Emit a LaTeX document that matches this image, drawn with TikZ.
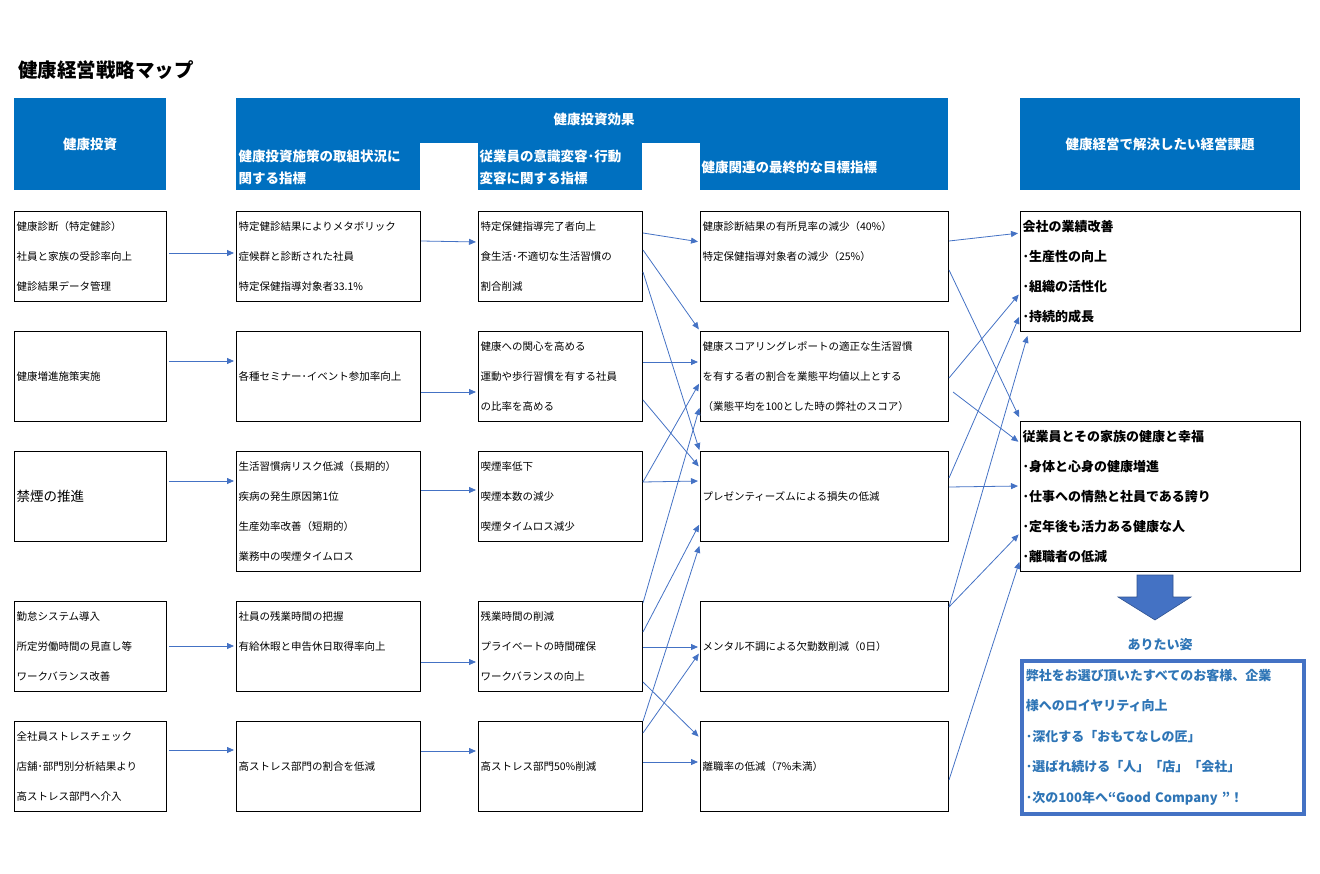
\documentclass[tikz,border=0pt]{standalone}
\usepackage{fontspec}
\setmainfont{Noto Sans CJK JP}
\usepackage{tikz}
\usepackage{xcolor}
\usetikzlibrary{arrows.meta}
\usetikzlibrary{calc}
\definecolor{headblue}{RGB}{0,112,192}
\definecolor{linkblue}{RGB}{68,114,196}
\definecolor{visblue}{RGB}{46,117,182}
\definecolor{arrowedge}{RGB}{47,82,143}

\begin{document}
\begin{tikzpicture}[x=1pt, y=-1pt,
		box/.style={draw=black, line width=1pt, anchor=north west, align=left, inner xsep=2pt, inner ysep=0pt, font=\fontsize{10.5}{30}\selectfont},
		invbox/.style={box, minimum width=152pt, text width=148pt, minimum height=90pt},
		actbox/.style={box, minimum width=184pt, text width=180pt, minimum height=90pt},
		chgbox/.style={box, minimum width=164pt, text width=160pt, minimum height=90pt},
		goalbox/.style={box, minimum width=248pt, text width=244pt, minimum height=90pt},
		issbox/.style={box, minimum width=280pt, text width=276pt, font=\fontsize{13}{30}\bfseries\selectfont},
		head/.style={fill=headblue, anchor=north west, minimum height=92pt, inner sep=0pt},
		headtext/.style={text=white, align=left, font=\fontsize{13.5}{22}\bfseries\selectfont},
		link/.style={draw=linkblue, line width=0.8pt, -{Triangle[length=7pt, width=6pt]}, shorten >=2pt}]
		\useasboundingbox (0,0) rectangle (1320,874);

		\node(title)	[anchor=west, inner sep=0pt, font=\fontsize{19.5}{24}\bfseries\selectfont] at (18,70) {健康経営戦略マップ};

		\node(hinv)		[head, headtext, minimum width=152pt] at (14,98)	{健康投資};
		\node(heff)		[head, minimum width=712pt] at (236,98)				{};
		\fill[white] (420,143) rectangle (478,190);
		\fill[white] (642,143) rectangle (700,190);
		\node(hefftxt)	[headtext] at (594,119)								{健康投資効果};
		\node(hact)		[headtext, anchor=west] at (235,167)				{健康投資施策の取組状況に\\関する指標};
		\node(hchg)		[headtext, anchor=west] at (476,167)				{従業員の意識変容･行動\\変容に関する指標};
		\node(hgoal)	[headtext, anchor=west] at (698,167)				{健康関連の最終的な目標指標};
		\node(hiss)		[head, headtext, minimum width=280pt] at (1020,98)	{健康経営で解決したい経営課題};

		\node(inv1)	[invbox] at (14,211)	{健康診断（特定健診）\\社員と家族の受診率向上\\健診結果データ管理};
		\node(inv2)	[invbox] at (14,331)	{健康増進施策実施};
		\node(inv3)	[invbox, font=\fontsize{13.5}{30}\selectfont] at (14,451)	{禁煙の推進};
		\node(inv4)	[invbox] at (14,601)	{勤怠システム導入\\所定労働時間の見直し等\\ワークバランス改善};
		\node(inv5)	[invbox] at (14,721)	{全社員ストレスチェック\\店舗･部門別分析結果より\\高ストレス部門へ介入};

		\node(act1)	[actbox] at (236,211)	{特定健診結果によりメタボリック\\症候群と診断された社員\\特定保健指導対象者33.1\%};
		\node(act2)	[actbox] at (236,331)	{各種セミナー･イベント参加率向上};
		\node(act3)	[actbox, minimum height=120pt] at (236,451)	{生活習慣病リスク低減（長期的）\\疾病の発生原因第1位\\生産効率改善（短期的）\\業務中の喫煙タイムロス};
		\node(act4)	[actbox] at (236,601)	{社員の残業時間の把握\\有給休暇と申告休日取得率向上\\\mbox{}};
		\node(act5)	[actbox] at (236,721)	{高ストレス部門の割合を低減};

		\node(chg1)	[chgbox] at (478,211)	{特定保健指導完了者向上\\食生活･不適切な生活習慣の\\割合削減};
		\node(chg2)	[chgbox] at (478,331)	{健康への関心を高める\\運動や歩行習慣を有する社員\\の比率を高める};
		\node(chg3)	[chgbox] at (478,451)	{喫煙率低下\\喫煙本数の減少\\喫煙タイムロス減少};
		\node(chg4)	[chgbox] at (478,601)	{残業時間の削減\\プライベートの時間確保\\ワークバランスの向上};
		\node(chg5)	[chgbox] at (478,721)	{高ストレス部門50\%削減};

		\node(goal1)	[goalbox] at (700,211)	{健康診断結果の有所見率の減少（40\%）\\特定保健指導対象者の減少（25\%）\\\mbox{}};
		\node(goal2)	[goalbox] at (700,331)	{健康スコアリングレポートの適正な生活習慣\\を有する者の割合を業態平均値以上とする\\（業態平均を100とした時の弊社のスコア）};
		\node(goal3)	[goalbox] at (700,451)	{プレゼンティーズムによる損失の低減};
		\node(goal4)	[goalbox] at (700,601)	{メンタル不調による欠勤数削減（0日）};
		\node(goal5)	[goalbox] at (700,721)	{離職率の低減（7\%未満）};

		\node(iss1)	[issbox, minimum height=120pt] at (1020,211)	{会社の業績改善\\･生産性の向上\\･組織の活性化\\･持続的成長};
		\node(iss2)	[issbox, minimum height=150pt] at (1020,421)	{従業員とその家族の健康と幸福\\･身体と心身の健康増進\\･仕事への情熱と社員である誇り\\･定年後も活力ある健康な人\\･離職者の低減};

		\draw[fill=linkblue, draw=arrowedge, line width=0.6pt] (1137,575) -- (1173,575) -- (1173,597) -- (1191,597) -- (1155,620) -- (1118,597) -- (1137,597) -- cycle;
		\node(ideal)	[text=visblue, font=\fontsize{13}{16}\bfseries\selectfont] at (1160,645) {ありたい姿};
		\node(vision)	[draw=linkblue, line width=3.5pt, anchor=north west, minimum width=282pt, minimum height=153pt, text width=274pt, align=left, inner xsep=4pt, inner ysep=0pt, text=visblue, font=\fontsize{13}{30.5}\bfseries\selectfont] at (1020,659) {弊社をお選び頂いたすべてのお客様、企業\\様へのロイヤリティ向上\\･深化する「おもてなしの匠」\\･選ばれ続ける「人」「店」「会社」\\･次の100年へ“Good Company ”！};

		\draw[link] ($(inv1.north east)+(2,42)$) -- ($(act1.north west)+(0,42)$);
		\draw[link] ($(inv2.north east)+(2,30)$) -- ($(act2.north west)+(0,30)$);
		\draw[link] ($(inv3.north east)+(2,30)$) -- ($(act3.north west)+(0,30)$);
		\draw[link] ($(inv4.north east)+(2,45)$) -- ($(act4.north west)+(0,45)$);
		\draw[link] ($(inv5.north east)+(2,29)$) -- ($(act5.north west)+(0,29)$);

		\draw[link] ($(act1.north east)+(0,30)$) -- ($(chg1.north west)+(0,31)$);
		\draw[link] ($(act2.north east)+(0,61)$) -- ($(chg2.north west)+(0,61)$);
		\draw[link] ($(act3.north east)+(0,39)$) -- ($(chg3.north west)+(0,39)$);
		\draw[link] ($(act4.north east)+(0,61)$) -- ($(chg4.north west)+(0,61)$);
		\draw[link] ($(act5.north east)+(0,30)$) -- ($(chg5.north west)+(0,30)$);

		\draw[link] ($(chg1.north east)+(0,22)$) -- ($(goal1.north west)+(0,31)$);
		\draw[link] ($(chg1.north east)+(0,39)$) -- ($(goal2.north west)+(0,0)$);
		\draw[link] ($(chg1.north east)+(0,61)$) -- ($(goal3.north west)+(0,1)$);
		\draw[link] ($(chg2.north east)+(0,31)$) -- ($(goal2.north west)+(0,31)$);
		\draw[link] ($(chg2.north east)+(0,69)$) -- ($(goal3.north west)+(0,17)$);
		\draw[link] ($(chg3.north east)+(0,31)$) -- ($(goal2.north west)+(0,51)$);
		\draw[link] ($(chg3.north east)+(0,31)$) -- ($(goal3.north west)+(0,30)$);
		\draw[link] ($(chg4.north east)+(0,2)$) -- ($(goal2.north west)+(0,75)$);
		\draw[link] ($(chg4.north east)+(0,31)$) -- ($(goal3.north west)+(0,72)$);
		\draw[link] ($(chg4.north east)+(0,46)$) -- ($(goal4.north west)+(0,46)$);
		\draw[link] ($(chg4.north east)+(0,81)$) -- ($(goal5.north west)+(0,17)$);
		\draw[link] ($(chg5.north east)+(0,0)$) -- ($(goal3.north west)+(0,93)$);
		\draw[link] ($(chg5.north east)+(0,12)$) -- ($(goal4.north west)+(0,51)$);
		\draw[link] ($(chg5.north east)+(0,41)$) -- ($(goal5.north west)+(0,41)$);

		\draw[link] ($(goal1.north east)+(0,30)$) -- ($(iss1.north west)+(0,22)$);
		\draw[link] ($(goal1.north east)+(0,59)$) -- ($(iss2.north west)+(0,-2)$);
		\draw[link] ($(goal2.north east)+(0,47)$) -- ($(iss1.north west)+(0,82)$);
		\draw[link] ($(goal2.north east)+(4,61)$) -- ($(iss2.north west)+(0,22)$);
		\draw[link] ($(goal3.north east)+(0,27)$) -- ($(iss1.north west)+(0,104)$);
		\draw[link] ($(goal3.north east)+(0,36)$) -- ($(iss2.north west)+(0,65)$);
		\draw[link] ($(goal4.north east)+(0,6)$) -- ($(iss1.south west)+(8,2)$);
		\draw[link] ($(goal4.north east)+(0,6)$) -- ($(iss2.north west)+(0,112)$);
		\draw[link] ($(goal5.north east)+(0,59)$) -- ($(iss2.north west)+(0,139)$);
	\end{tikzpicture}
\end{document}
